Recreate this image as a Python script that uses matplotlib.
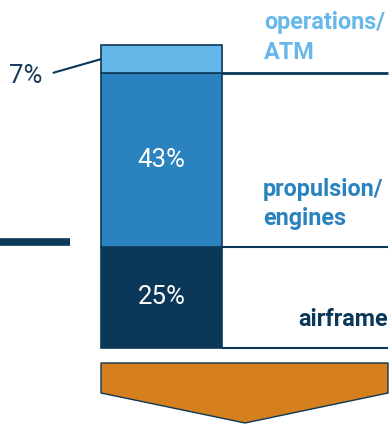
import matplotlib
matplotlib.use('Agg')
import matplotlib.pyplot as plt
from matplotlib.patches import Polygon

plt.rcParams['font.family'] = ['Roboto', 'DejaVu Sans']

# share of the total, stacked bottom to top
segments = ['airframe', 'propulsion/\nengines', 'operations/\nATM']
shares = [25, 43, 7]
colors = ['#0b3858', '#2a83bf', '#67b8ea']
navy = '#0b3858'

W, H = 389, 425
fig = plt.figure(figsize=(W / 100, H / 100), dpi=100)
ax = fig.add_axes([0, 0, 1, 1])

# bar is one unit wide, centred on x=0
k = 303 / sum(shares)          # pixels per percent
ax.set_xlim(-161.5 / 121, (W - 161.5) / 121)
ax.set_ylim(-(H - 348) / k, 348 / k)
ax.axis('off')


def px(x, y):
    # pixel position -> axes fraction, for the decorations
    return x / W, 1 - y / H


bottoms = [sum(shares[:i]) for i in range(len(shares))]
ax.bar(0, shares, bottom=bottoms, width=1, color=colors,
       edgecolor=navy, linewidth=1.2, zorder=3)

# guide lines to the right of each segment's base
x_end = ax.get_xlim()[1] - 0.01
for i, b in enumerate(bottoms):
    ax.plot([0.5, x_end], [b, b], color=navy,
            lw=2.0 if i == 2 else 1.5, solid_capstyle='butt', zorder=2)

# values inside the big segments
for s, b in zip(shares[:2], bottoms[:2]):
    ax.text(0, b + s / 2, f'{s}%', color='white', fontsize=18.5,
            ha='center', va='center', zorder=4)

# small top segment gets a leader line
ax.annotate(f'{shares[2]}%', xy=(-0.5, bottoms[2] + shares[2] / 2),
            xytext=(-54, -12), textcoords='offset points',
            fontsize=18.5, color='#1a3a5a', ha='center', va='center',
            arrowprops=dict(arrowstyle='-', color=navy, lw=1.5,
                            relpos=(1, 0.5), shrinkA=6, shrinkB=0))

# category names above the guide lines
ax.annotate(segments[2], xy=(0.85, bottoms[2]), xytext=(0, 7),
            textcoords='offset points', color=colors[2], fontsize=16.8,
            fontweight='bold', ha='left', va='bottom', linespacing=1.35)
ax.annotate(segments[1], xy=(0.84, bottoms[1]), xytext=(0, 12),
            textcoords='offset points', color=colors[1], fontsize=16.8,
            fontweight='bold', ha='left', va='bottom', linespacing=1.35)
ax.annotate(segments[0], xy=(x_end, bottoms[0]), xytext=(0, 12),
            textcoords='offset points', color=colors[0], fontsize=16.8,
            fontweight='bold', ha='right', va='bottom')

# short dash on the far left
ax.plot(*zip(px(0, 242), px(70, 242)), transform=ax.transAxes,
        color=navy, lw=5.5, solid_capstyle='butt')

# orange down arrow under the bar
arrow = Polygon([px(101, 363), px(388, 363), px(388, 393),
                 px(245, 423), px(101, 393)], closed=True,
                transform=ax.transAxes, facecolor='#d67f1e',
                edgecolor=navy, lw=1.0)
ax.add_patch(arrow)

fig.savefig('out.png', dpi=100)
